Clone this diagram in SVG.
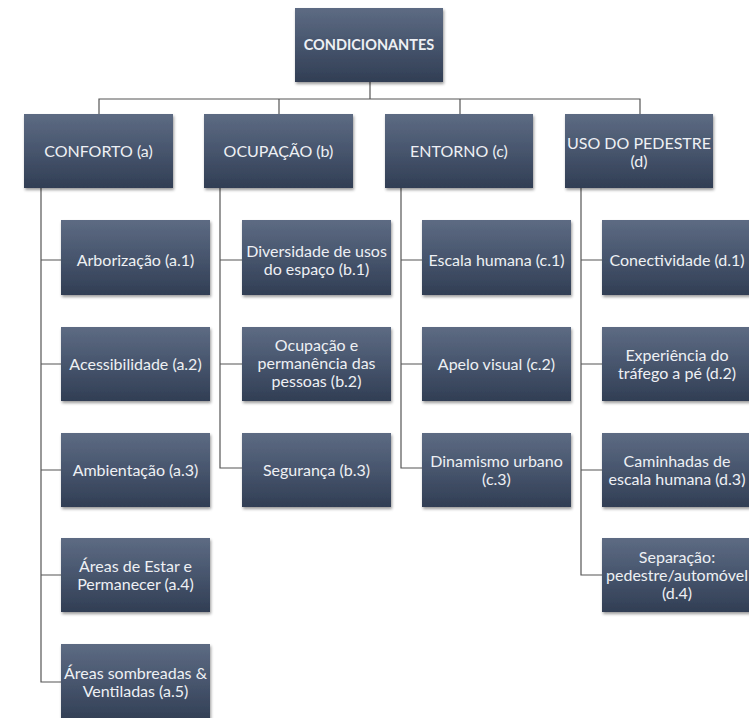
<svg xmlns="http://www.w3.org/2000/svg" width="749" height="718" viewBox="0 0 749 718">
<defs>
<linearGradient id="g" x1="0" y1="0" x2="0" y2="1">
<stop offset="0" stop-color="#5d6b83"/>
<stop offset="0.5" stop-color="#47556d"/>
<stop offset="1" stop-color="#313e54"/>
</linearGradient>
<filter id="sh" x="-10%" y="-10%" width="125%" height="130%">
<feDropShadow dx="1" dy="2" stdDeviation="1.5" flood-color="#000" flood-opacity="0.4"/>
</filter>
</defs>
<style>
rect.n{fill:url(#g);filter:url(#sh)}
text{font-family:Lato,"Open Sans","Liberation Sans",sans-serif;font-size:16px;fill:#eef0f4;text-anchor:middle}
text.b{font-weight:bold;font-size:14.5px}
.c{fill:none;stroke:#555;stroke-width:1.2}
</style>
<rect width="749" height="718" fill="#fff"/>
<g id="connectors">
<path class="c" d="M370,82V99M99,114V99H640V114M279,99V114M460,99V114"/>
<path class="c" d="M41,188V682H61M41,260H61M41,364H61M41,470H61M41,575H61"/>
<path class="c" d="M220,188V468H242M220,260H242M220,364H242"/>
<path class="c" d="M401,188V468H422M401,260H422M401,364H422"/>
<path class="c" d="M581,188V575H602M581,260H602M581,364H602M581,470H602"/>
</g>
<g id="n0"><rect class="n" x="295" y="8" width="148" height="74"/><text class="b" x="369" y="50">CONDICIONANTES</text></g>
<g id="na"><rect class="n" x="24" y="114" width="149" height="74"/><text x="98.5" y="157">CONFORTO (a)</text></g>
<g id="nb"><rect class="n" x="204" y="114" width="149" height="74"/><text x="278.5" y="157">OCUPAÇÃO (b)</text></g>
<g id="nc"><rect class="n" x="385" y="114" width="148" height="74"/><text x="459" y="157">ENTORNO (c)</text></g>
<g id="nd"><rect class="n" x="565" y="114" width="148" height="74"/><text x="639" y="149">USO DO PEDESTRE</text><text x="639" y="167">(d)</text></g>

<g id="na1"><rect class="n" x="61" y="220" width="149" height="75"/><text x="135.5" y="266">Arborização (a.1)</text></g>
<g id="na2"><rect class="n" x="61" y="327" width="149" height="74"/><text x="135.5" y="370">Acessibilidade (a.2)</text></g>
<g id="na3"><rect class="n" x="61" y="433" width="149" height="74"/><text x="135.5" y="476">Ambientação (a.3)</text></g>
<g id="na4"><rect class="n" x="61" y="538" width="149" height="74"/><text x="135.5" y="572">Áreas de Estar e</text><text x="135.5" y="590">Permanecer (a.4)</text></g>
<g id="na5"><rect class="n" x="61" y="644" width="149" height="78"/><text x="135.5" y="679">Áreas sombreadas &amp;</text><text x="135.5" y="697">Ventiladas (a.5)</text></g>

<g id="nb1"><rect class="n" x="242" y="220" width="149" height="75"/><text x="316.5" y="257">Diversidade de usos</text><text x="316.5" y="275">do espaço (b.1)</text></g>
<g id="nb2"><rect class="n" x="242" y="327" width="149" height="74"/><text x="316.5" y="351">Ocupação e</text><text x="316.5" y="369">permanência das</text><text x="316.5" y="387">pessoas (b.2)</text></g>
<g id="nb3"><rect class="n" x="242" y="433" width="149" height="74"/><text x="316.5" y="476">Segurança (b.3)</text></g>

<g id="nc1"><rect class="n" x="422" y="220" width="149" height="75"/><text x="496.5" y="266">Escala humana (c.1)</text></g>
<g id="nc2"><rect class="n" x="422" y="327" width="149" height="74"/><text x="496.5" y="370">Apelo visual (c.2)</text></g>
<g id="nc3"><rect class="n" x="422" y="433" width="149" height="74"/><text x="496.5" y="467">Dinamismo urbano</text><text x="496.5" y="485">(c.3)</text></g>

<g id="nd1"><rect class="n" x="602" y="220" width="149" height="75"/><text x="677" y="266">Conectividade (d.1)</text></g>
<g id="nd2"><rect class="n" x="602" y="327" width="149" height="74"/><text x="677" y="361">Experiência do</text><text x="677" y="379">tráfego a pé (d.2)</text></g>
<g id="nd3"><rect class="n" x="602" y="433" width="149" height="74"/><text x="677" y="467">Caminhadas de</text><text x="677" y="485">escala humana (d.3)</text></g>
<g id="nd4"><rect class="n" x="602" y="538" width="149" height="74"/><text x="677" y="563">Separação:</text><text x="677" y="581">pedestre/automóvel</text><text x="677" y="599">(d.4)</text></g>
</svg>
